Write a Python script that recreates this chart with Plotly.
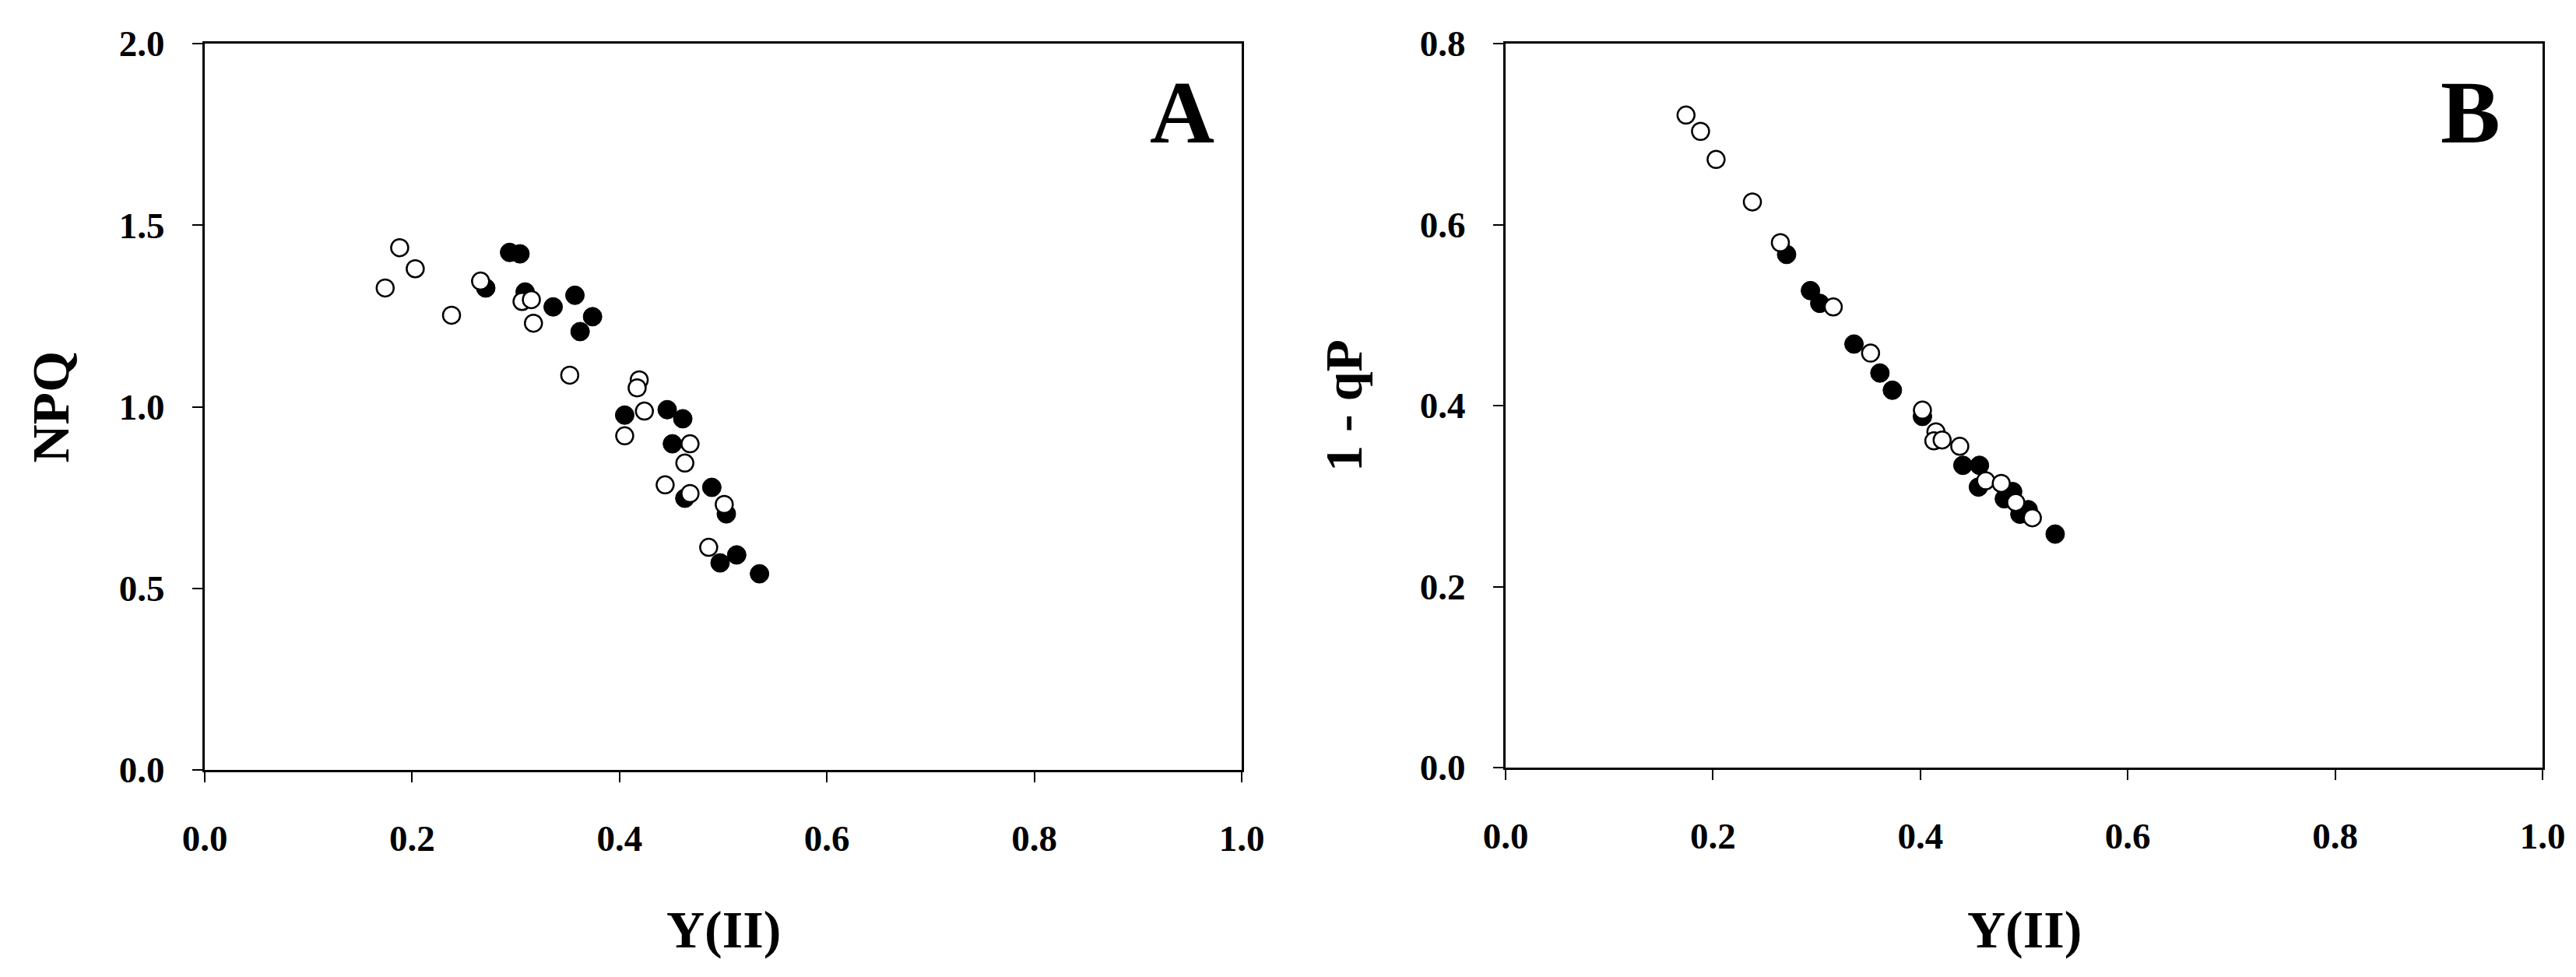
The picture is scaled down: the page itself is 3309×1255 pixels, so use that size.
import plotly.graph_objects as go

# Panel A: NPQ against Y(II)
a_open_x = [0.188, 0.203, 0.174, 0.266, 0.238, 0.306, 0.315, 0.317, 0.352, 0.419, 0.417,
            0.424, 0.405, 0.468, 0.463, 0.444, 0.468, 0.501, 0.486]
a_open_y = [1.438, 1.380, 1.327, 1.346, 1.252, 1.290, 1.295, 1.230, 1.087, 1.074, 1.052,
            0.988, 0.920, 0.898, 0.845, 0.785, 0.761, 0.731, 0.613]
a_fill_x = [0.294, 0.304, 0.271, 0.309, 0.336, 0.357, 0.374, 0.362, 0.405, 0.446, 0.461,
            0.451, 0.463, 0.489, 0.503, 0.497, 0.513, 0.535]
a_fill_y = [1.425, 1.421, 1.327, 1.316, 1.275, 1.307, 1.248, 1.207, 0.977, 0.992, 0.967,
            0.898, 0.748, 0.778, 0.705, 0.570, 0.592, 0.540]

# Panel B: 1 - qP against Y(II)
b_open_x = [0.174, 0.188, 0.203, 0.238, 0.265, 0.316, 0.352, 0.402, 0.415, 0.413, 0.421,
            0.438, 0.463, 0.478, 0.492, 0.508]
b_open_y = [0.721, 0.703, 0.672, 0.625, 0.580, 0.509, 0.458, 0.395, 0.371, 0.361, 0.362,
            0.355, 0.317, 0.314, 0.293, 0.276]
b_fill_x = [0.271, 0.294, 0.303, 0.336, 0.361, 0.373, 0.402, 0.441, 0.457, 0.456, 0.489,
            0.481, 0.496, 0.504, 0.530]
b_fill_y = [0.567, 0.527, 0.513, 0.468, 0.436, 0.417, 0.388, 0.334, 0.334, 0.310, 0.305,
            0.297, 0.280, 0.285, 0.258]

W, H = 3309, 1255
FONT = "Liberation Serif"

# plot frames in pixels: (left, right, top, bottom)
A_BOX = (255, 1587, 48, 981)
B_BOX = (1926, 3258, 48, 978)


def _dom_x(box):
    return [box[0] / W, box[1] / W]


def _dom_y(box):
    return [1 - box[3] / H, 1 - box[2] / H]


def _filled(x, y, xa, ya):
    return go.Scatter(
        x=x, y=y, xaxis=xa, yaxis=ya, mode="markers", showlegend=False,
        marker=dict(symbol="circle", size=24, color="black", line=dict(color="black", width=1)),
    )


def _open(x, y, xa, ya):
    return go.Scatter(
        x=x, y=y, xaxis=xa, yaxis=ya, mode="markers", showlegend=False,
        marker=dict(symbol="circle", size=22, color="white", line=dict(color="black", width=2.5)),
    )


fig = go.Figure()
fig.add_trace(_filled(a_fill_x, a_fill_y, "x", "y"))
fig.add_trace(_open(a_open_x, a_open_y, "x", "y"))
fig.add_trace(_filled(b_fill_x, b_fill_y, "x2", "y2"))
fig.add_trace(_open(b_open_x, b_open_y, "x2", "y2"))

tick_font = dict(family=FONT, size=47, color="black", weight="bold")
axis_common = dict(
    showline=True, linecolor="black", linewidth=3, mirror=True,
    ticks="outside", ticklen=13, tickwidth=2, tickcolor="black",
    showgrid=False, zeroline=False, tickformat=".1f", tickfont=tick_font,
    automargin=False,
)
xaxis_common = dict(axis_common, range=[0, 1], dtick=0.2, ticklabelstandoff=32)
yaxis_common = dict(axis_common, ticklabelstandoff=26)

title_font = dict(family=FONT, size=68, color="black", weight="bold")
letter_font = dict(family=FONT, size=115, color="black", weight="bold")


def _mid_x(box):
    return (box[0] + box[1]) / 2 / W


def _mid_y(box):
    return 1 - (box[2] + box[3]) / 2 / H


annotations = [
    dict(text="Y(II)", x=_mid_x(A_BOX), y=1 - 1186 / H),
    dict(text="Y(II)", x=_mid_x(B_BOX), y=1 - 1186 / H),
    dict(text="NPQ", x=56 / W, y=_mid_y(A_BOX), textangle=-90),
    dict(text="1 - qP", x=1718 / W, y=_mid_y(B_BOX), textangle=-90),
]
for ann in annotations:
    ann.update(xref="paper", yref="paper", xanchor="center", yanchor="middle",
               showarrow=False, font=title_font)

annotations += [
    dict(text="A", x=1510 / W, y=1 - 137 / H, xref="paper", yref="paper",
         xanchor="center", yanchor="middle", showarrow=False, font=letter_font),
    dict(text="B", x=3165 / W, y=1 - 137 / H, xref="paper", yref="paper",
         xanchor="center", yanchor="middle", showarrow=False, font=letter_font),
]

fig.update_layout(
    width=W, height=H,
    paper_bgcolor="white", plot_bgcolor="white",
    margin=dict(l=0, r=0, t=0, b=0, autoexpand=False),
    xaxis=dict(xaxis_common, domain=_dom_x(A_BOX), anchor="y"),
    yaxis=dict(yaxis_common, domain=_dom_y(A_BOX), range=[0, 2], dtick=0.5, anchor="x"),
    xaxis2=dict(xaxis_common, domain=_dom_x(B_BOX), anchor="y2"),
    yaxis2=dict(yaxis_common, domain=_dom_y(B_BOX), range=[0, 0.8], dtick=0.2, anchor="x2"),
    annotations=annotations,
)

fig.write_html("out.html")
